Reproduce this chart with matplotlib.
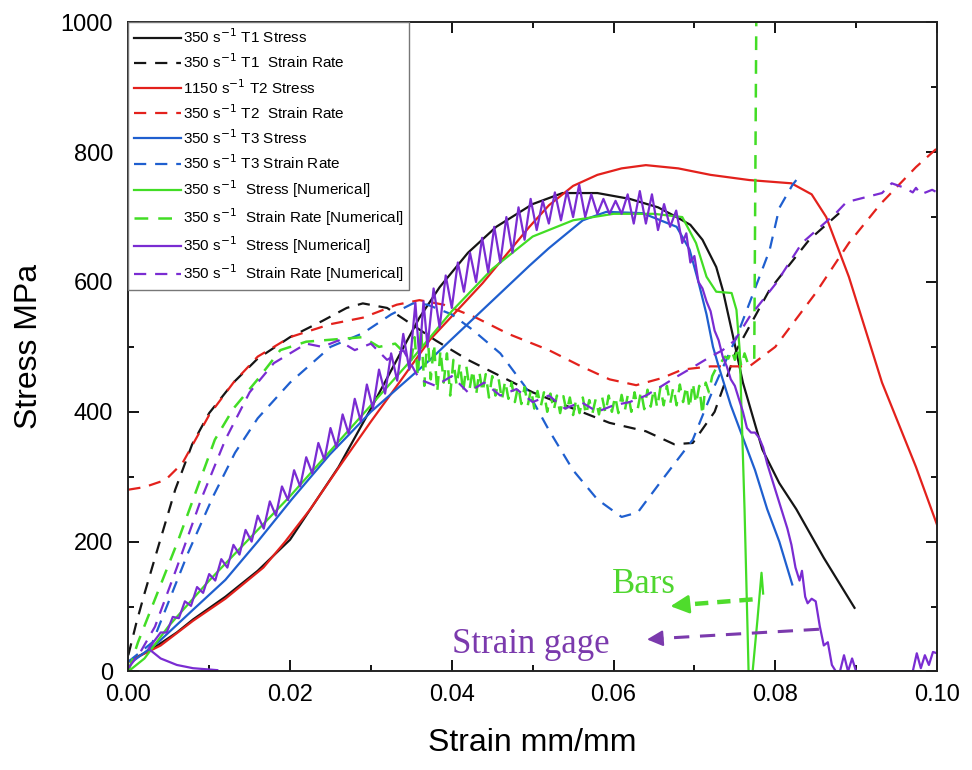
import numpy as np
import matplotlib
matplotlib.use('Agg')
import matplotlib.pyplot as plt
from matplotlib.ticker import MultipleLocator, FormatStrFormatter

plt.rcParams['font.family'] = ['Liberation Sans', 'DejaVu Sans']

# ---- experimental curves (strain, stress MPa) ----
t1_stress_x = [0, 0.003, 0.006, 0.008, 0.012, 0.016, 0.020, 0.026, 0.030, 0.0332, 0.036, 0.0385,
               0.042, 0.0455, 0.050, 0.0537, 0.058, 0.062, 0.0655, 0.0678, 0.0695, 0.071, 0.0727,
               0.0735, 0.0748, 0.076, 0.0784, 0.0805, 0.0826, 0.086, 0.0898]
t1_stress_y = [15, 35, 60, 80, 115, 155, 203, 315, 405, 480, 545, 592, 645, 685, 720, 737, 737, 728,
               715, 700, 688, 665, 623, 588, 515, 445, 342, 290, 250, 175, 98]

t1_rate_x = [0, 0.001, 0.002, 0.0037, 0.0058, 0.0079, 0.010, 0.013, 0.016, 0.020, 0.024, 0.027, 0.029,
             0.032, 0.035, 0.038, 0.042, 0.046, 0.050, 0.055, 0.0595, 0.064, 0.0675, 0.0698, 0.0725,
             0.0752, 0.0793, 0.0842, 0.0879]
t1_rate_y = [25, 75, 120, 192, 280, 350, 398, 445, 482, 515, 540, 560, 567, 560, 535, 510, 480, 455,
             430, 405, 383, 370, 350, 352, 400, 495, 588, 665, 706]

t2_stress_x = [0, 0.004, 0.008, 0.012, 0.0167, 0.0194, 0.0225, 0.0259, 0.030, 0.0335, 0.0373, 0.0438,
               0.0496, 0.052, 0.055, 0.058, 0.061, 0.064, 0.068, 0.072, 0.0768, 0.082, 0.0845,
               0.0863, 0.0891, 0.0932, 0.0974, 0.100]
t2_stress_y = [15, 40, 78, 112, 160, 200, 250, 312, 385, 445, 511, 598, 685, 718, 748, 765, 775, 780,
               775, 765, 757, 752, 735, 700, 608, 445, 315, 226]

t2_rate_x = [0, 0.002, 0.0046, 0.0067, 0.0083, 0.010, 0.013, 0.016, 0.020, 0.025, 0.029, 0.0332,
             0.036, 0.039, 0.043, 0.047, 0.052, 0.056, 0.0595, 0.0628, 0.066, 0.0685, 0.072, 0.0768,
             0.080, 0.085, 0.0891, 0.093, 0.0974, 0.100]
t2_rate_y = [280, 284, 295, 321, 357, 395, 445, 485, 515, 535, 545, 565, 572, 565, 545, 520, 495, 470,
             450, 441, 452, 465, 470, 470, 500, 583, 660, 720, 777, 806]

t3_stress_x = [0.0005, 0.0037, 0.008, 0.012, 0.016, 0.0202, 0.0249, 0.030, 0.0373, 0.0394, 0.0445,
               0.0496, 0.052, 0.0562, 0.0591, 0.0636, 0.0678, 0.0694, 0.0705, 0.0715, 0.0723,
               0.073, 0.0745, 0.076, 0.0775, 0.079, 0.0805, 0.0821]
t3_stress_y = [15, 45, 95, 141, 200, 265, 334, 400, 480, 505, 565, 625, 652, 695, 708, 706, 685, 650,
               600, 550, 500, 470, 410, 360, 310, 250, 200, 134]

t3_rate_x = [0, 0.003, 0.0074, 0.0105, 0.0132, 0.016, 0.020, 0.025, 0.029, 0.0325, 0.0352, 0.037,
             0.040, 0.0426, 0.046, 0.049, 0.052, 0.055, 0.058, 0.061, 0.063, 0.066, 0.0698, 0.0725,
             0.0752, 0.0775, 0.0793, 0.0805, 0.0821, 0.0826]
t3_rate_y = [15, 45, 183, 270, 337, 390, 445, 500, 521, 550, 567, 565, 550, 526, 490, 440, 372, 310,
             265, 238, 245, 295, 357, 440, 515, 590, 649, 714, 749, 757]

# ---- numerical curves ----
num_g_stress_x = [0, 0.002, 0.005, 0.010, 0.015, 0.020, 0.025, 0.030, 0.035, 0.040, 0.045, 0.050,
                  0.055, 0.060, 0.065, 0.0685, 0.0702, 0.0715, 0.0727, 0.0746, 0.0752, 0.0756,
                  0.0762, 0.0767, 0.0772, 0.0778, 0.0783, 0.0785]
num_g_stress_y = [0, 20, 70, 140, 205, 270, 340, 410, 480, 555, 620, 670, 695, 705, 705, 700, 660,
                  608, 585, 583, 557, 495, 250, 0, 0, 80, 152, 120]

num_g_rate_x = [0, 0.0012, 0.0062, 0.0107, 0.013, 0.016, 0.0188, 0.022, 0.026, 0.029, 0.031, 0.033,
                0.0350, 0.0354, 0.0358, 0.0362, 0.0366, 0.0370, 0.0374, 0.0378, 0.0382, 0.0386,
                0.0390, 0.0394, 0.0398, 0.0402, 0.0406, 0.0410, 0.0414, 0.0418, 0.0422, 0.0426,
                0.0430, 0.0434, 0.0438, 0.0442, 0.0446, 0.0450, 0.0454, 0.0458, 0.0462, 0.0466,
                0.0470, 0.0474, 0.0478, 0.0482, 0.0486, 0.0490, 0.0494, 0.0498, 0.0502, 0.0506,
                0.0510, 0.0514, 0.0518, 0.0522, 0.0526, 0.0530, 0.0534, 0.0538, 0.0542, 0.0546,
                0.0550, 0.0554, 0.0558, 0.0562, 0.0566, 0.0570, 0.0574, 0.0578, 0.0582, 0.0586,
                0.0590, 0.0594, 0.0598, 0.0602, 0.0606, 0.0610, 0.0614, 0.0618, 0.0622, 0.0626,
                0.0630, 0.0634, 0.0638, 0.0642, 0.0646, 0.0650, 0.0654, 0.0658, 0.0662, 0.0666,
                0.0670, 0.0674, 0.0678, 0.0682, 0.0686, 0.0690, 0.0694, 0.0698, 0.0702, 0.0706,
                0.0710, 0.0714, 0.0718, 0.0722, 0.0726, 0.0730, 0.0734, 0.0738, 0.0742, 0.0746,
                0.0750, 0.0754, 0.0758, 0.0762, 0.0766, 0.0770, 0.0774, 0.0777]
num_g_rate_y = [0, 45, 203, 357, 405, 450, 495, 508, 512, 515, 500, 505,
                480, 515, 455, 530, 440, 520, 450, 505, 430, 495,
                445, 490, 425, 480, 440, 475, 430, 470, 435, 465,
                425, 462, 430, 458, 422, 455, 425, 450, 418, 448,
                420, 445, 415, 440, 412, 438, 410, 435, 405, 432,
                408, 430, 400, 428, 402, 425, 398, 424, 400, 422,
                395, 420, 398, 422, 395, 418, 398, 420, 396, 422,
                398, 425, 400, 424, 398, 426, 402, 428, 400, 430,
                405, 432, 404, 434, 408, 436, 406, 438, 410, 440,
                412, 438, 410, 442, 415, 440, 405, 445, 412, 440,
                395, 445, 430, 455, 465, 470, 478, 485, 482, 495,
                480, 500, 470, 490, 475, 480, 480, 1100]

num_p_stress_x = [0.0110, 0.008, 0.006, 0.004, 0.0025,
                  0.004, 0.00475, 0.0055, 0.00625, 0.007, 0.00775, 0.0085, 0.00925, 0.010, 0.01075,
                  0.0115, 0.01225, 0.013, 0.01375, 0.0145, 0.01525, 0.016, 0.01675, 0.0175, 0.01825,
                  0.019, 0.01975, 0.0205, 0.02125, 0.022, 0.02275, 0.0235, 0.02425, 0.025, 0.02575,
                  0.0265, 0.02725, 0.028, 0.02875, 0.0295, 0.03025, 0.031, 0.03175, 0.0325, 0.03325,
                  0.034, 0.03475, 0.0355, 0.036, 0.0365, 0.037, 0.03775, 0.0385, 0.03925, 0.040,
                  0.04075, 0.0415, 0.04225, 0.043, 0.04375, 0.0445, 0.04525, 0.046, 0.04675, 0.0475,
                  0.04825, 0.049, 0.04975, 0.0505, 0.05125, 0.052, 0.05275, 0.0535, 0.05425, 0.055,
                  0.05575, 0.0565, 0.05725, 0.058, 0.05875, 0.0595, 0.06025, 0.061, 0.06175, 0.0625,
                  0.06325, 0.064, 0.06475, 0.0655, 0.06625, 0.067, 0.06775,
                  0.0685, 0.069, 0.0695, 0.070, 0.0705, 0.071, 0.0715, 0.072, 0.0725, 0.073, 0.0735,
                  0.074, 0.0745, 0.075, 0.0755, 0.076, 0.0765, 0.077, 0.0775, 0.078, 0.0785, 0.079,
                  0.0795, 0.080, 0.0805, 0.081, 0.0815, 0.082, 0.0825, 0.083, 0.0833, 0.0837, 0.084,
                  0.0845, 0.085, 0.0855, 0.086, 0.0865, 0.087, 0.0875, 0.088, 0.0885, 0.089, 0.0895,
                  0.090, 0.097, 0.0975, 0.098, 0.0985, 0.099, 0.0995, 0.100]
num_p_stress_y = [2, 5, 10, 20, 35,
                  60, 60, 84, 82, 108, 101, 130, 121, 150, 140,
                  173, 160, 195, 180, 218, 200, 240, 220, 262, 240,
                  285, 264, 310, 285, 330, 305, 352, 326, 375, 345,
                  396, 366, 420, 385, 442, 405, 465, 428, 490, 448,
                  520, 465, 568, 480, 570, 500, 590, 530, 610, 560,
                  630, 585, 645, 600, 668, 615, 685, 630, 700, 645,
                  715, 665, 728, 680, 725, 690, 738, 695, 740, 700,
                  750, 700, 735, 705, 728, 705, 725, 705, 735, 690,
                  740, 690, 735, 680, 720, 685, 710,
                  660, 675, 630, 640, 600, 590, 570, 555, 525, 510, 485,
                  470, 450, 440, 420, 400, 375, 368, 368, 360, 345, 320,
                  300, 280, 260, 240, 220, 195, 160, 140, 155, 115, 105,
                  112, 108, 70, 40, 45, 10, 0, 0, 25, 0, 20,
                  0, 0, 28, 5, 25, 10, 30, 28]

num_p_rate_x = [0, 0.0015, 0.0033, 0.006, 0.009, 0.012, 0.015, 0.018, 0.020, 0.022, 0.024, 0.026,
                0.028, 0.030, 0.032, 0.034, 0.036, 0.038, 0.040, 0.042, 0.044, 0.046, 0.048, 0.050,
                0.052, 0.054, 0.056, 0.058, 0.060, 0.062, 0.064, 0.066, 0.0678, 0.070, 0.072,
                0.0735, 0.075, 0.0768, 0.0801, 0.0833, 0.0875, 0.0888, 0.0932, 0.0944, 0.096,
                0.097, 0.0974, 0.098, 0.0994, 0.100]
num_p_rate_y = [5, 30, 69, 160, 265, 357, 430, 475, 490, 505, 500, 510, 495, 505, 480, 495, 450, 440,
                455, 430, 445, 425, 435, 415, 425, 405, 415, 400, 410, 415, 425, 440, 454, 470, 485,
                495, 510, 546, 598, 660, 706, 723, 737, 752, 745, 738, 745, 735, 742, 738]

# annotation arrows (strain, stress)
bars_tail, bars_head, bars_tip = (0.0772, 111), (0.0690, 103), (0.0667, 100)
gage_tail, gage_head, gage_tip = (0.0854, 65), (0.0660, 51), (0.0638, 49)

BLACK, RED, BLUE, GREEN, PURPLE = '#151515', '#e3211c', '#1f5fcf', '#42dd25', '#7a2cd2'
DASH = (5.5, 4)
LW = 1.6

fig = plt.figure(figsize=(9.72, 7.70), dpi=100)
ax = fig.add_axes([0.132, 0.128, 0.832, 0.843])

ax.plot(t1_stress_x, t1_stress_y, color=BLACK, lw=LW, label='350 s$^{-1}$ T1 Stress')
ax.plot(t1_rate_x, t1_rate_y, color=BLACK, lw=LW, dashes=DASH, label='350 s$^{-1}$ T1  Strain Rate')
ax.plot(t2_stress_x, t2_stress_y, color=RED, lw=LW, label='1150 s$^{-1}$ T2 Stress')
ax.plot(t2_rate_x, t2_rate_y, color=RED, lw=LW, dashes=DASH, label='350 s$^{-1}$ T2  Strain Rate')
ax.plot(t3_stress_x, t3_stress_y, color=BLUE, lw=LW, label='350 s$^{-1}$ T3 Stress')
ax.plot(t3_rate_x, t3_rate_y, color=BLUE, lw=LW, dashes=DASH, label='350 s$^{-1}$ T3 Strain Rate')
ax.plot(num_g_stress_x, num_g_stress_y, color=GREEN, lw=LW, label='350 s$^{-1}$  Stress [Numerical]')
ax.plot(num_g_rate_x, num_g_rate_y, color=GREEN, lw=LW + 0.2, dashes=DASH,
        label='350 s$^{-1}$  Strain Rate [Numerical]')
ax.plot(num_p_stress_x, num_p_stress_y, color=PURPLE, lw=LW, label='350 s$^{-1}$  Stress [Numerical]')
ax.plot(num_p_rate_x, num_p_rate_y, color=PURPLE, lw=LW, dashes=DASH,
        label='350 s$^{-1}$  Strain Rate [Numerical]')

# "Bars" / "Strain gage" callouts
ax.plot([bars_tail[0], bars_head[0]], [bars_tail[1], bars_head[1]], color='#4fdc2c', lw=3.2,
        dashes=(3, 2))
ax.annotate('', xy=bars_tip, xytext=bars_head,
            arrowprops=dict(arrowstyle='-|>', color='#4fdc2c', lw=2, mutation_scale=28))
ax.text(0.0637, 134, 'Bars', color='#4fd62f', fontsize=25, family='Liberation Serif',
        ha='center', va='center')
ax.plot([gage_tail[0], gage_head[0]], [gage_tail[1], gage_head[1]], color='#7b3aad', lw=2.2,
        dashes=(5, 3.5))
ax.annotate('', xy=gage_tip, xytext=gage_head,
            arrowprops=dict(arrowstyle='-|>', color='#7b3aad', lw=1.5, mutation_scale=24))
ax.text(0.0498, 42, 'Strain gage', color='#7b3aad', fontsize=25, family='Liberation Serif',
        ha='center', va='center')

ax.set_xlim(0, 0.10)
ax.set_ylim(0, 1000)
ax.xaxis.set_major_locator(MultipleLocator(0.02))
ax.xaxis.set_minor_locator(MultipleLocator(0.01))
ax.xaxis.set_major_formatter(FormatStrFormatter('%.2f'))
ax.yaxis.set_major_locator(MultipleLocator(200))
ax.yaxis.set_minor_locator(MultipleLocator(100))
ax.tick_params(which='both', direction='in', top=True, right=True, width=1.3, labelsize=17)
ax.tick_params(which='major', length=8)
ax.tick_params(which='minor', length=4.5)
ax.tick_params(axis='x', pad=9)
ax.tick_params(axis='y', pad=11)
for s in ax.spines.values():
    s.set_linewidth(1.4)
    s.set_color('#222222')

ax.set_xlabel('Strain mm/mm', fontsize=23, labelpad=16)
ax.set_ylabel('Stress MPa', fontsize=23, labelpad=12)

leg = ax.legend(loc='upper left', bbox_to_anchor=(0, 1), borderaxespad=0, fontsize=11,
                handlelength=3.1, handletextpad=0.1, labelspacing=0.42, borderpad=0.35,
                fancybox=False, edgecolor='#777777', framealpha=1)
leg.get_frame().set_linewidth(1.0)

fig.savefig('out.png', dpi=100)
